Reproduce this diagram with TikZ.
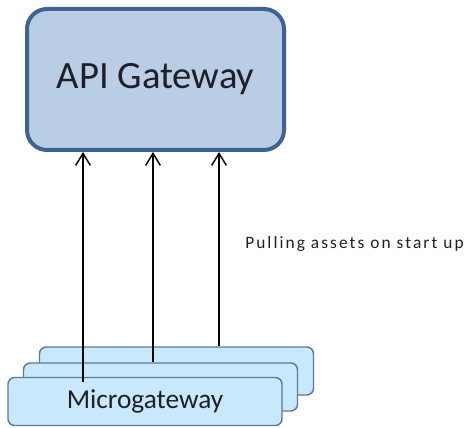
\documentclass[tikz,border=0pt]{standalone}
\usepackage{fontspec}
\setmainfont{Carlito}
\usetikzlibrary{arrows.meta}
\definecolor{gwfill}{HTML}{B9CDE5}
\definecolor{gwline}{HTML}{3F6391}
\definecolor{mgfill}{HTML}{C9E8FC}
\definecolor{mgline}{HTML}{587AA4}
\definecolor{txt}{HTML}{1F1F2A}
\tikzset{
  gateway/.style={draw=gwline, line width=3pt, fill=gwfill, rounded corners=15pt,
    minimum width={257*0.75pt}, minimum height={141*0.75pt}, inner sep=0pt,
    font=\fontsize{29}{32}\selectfont, text=txt},
  micro/.style={draw=mgline, line width=1.1pt, fill=mgfill, rounded corners=5pt,
    minimum width={274*0.75pt}, minimum height={48*0.75pt}, inner sep=0pt,
    font=\fontsize{20.5}{23}\selectfont, text=txt},
  pull/.style={line width=1.1pt, black, -{Straight Barb[length=9pt, width=11pt, line width=1.1pt]}},
  note/.style={font=\fontsize{13}{15}\selectfont\addfontfeature{LetterSpace=12}, text=txt, inner sep=0pt, anchor=base west}
}
\begin{document}
\begin{tikzpicture}[x=0.75pt, y=-0.75pt]
  \useasboundingbox (0,0) rectangle (466,427);
  % gateway on top
  \node[gateway] (gw) at (155.5,79.5) {API Gateway};
  % stack of microgateway instances, back to front
  \node[micro] (mg3) at (176.5,371) {};
  \node[micro] (mg2) at (160.5,387) {};
  \node[micro] (mg1) at (145,401.5) {Microgateway};
  % start points of the pull connectors
  \coordinate (s1) at (83,382);
  \coordinate (s2) at (mg2.north -| 153,0);
  \coordinate (s3) at (mg3.north -| 219,0);
  \draw[pull] (s1) -- (s1 |- gw.south);
  \draw[pull] (s2) -- (s2 |- gw.south);
  \draw[pull] (s3) -- (s3 |- gw.south);
  \node[note] (lbl) at (245,248) {Pulling assets on start up};
\end{tikzpicture}
\end{document}
